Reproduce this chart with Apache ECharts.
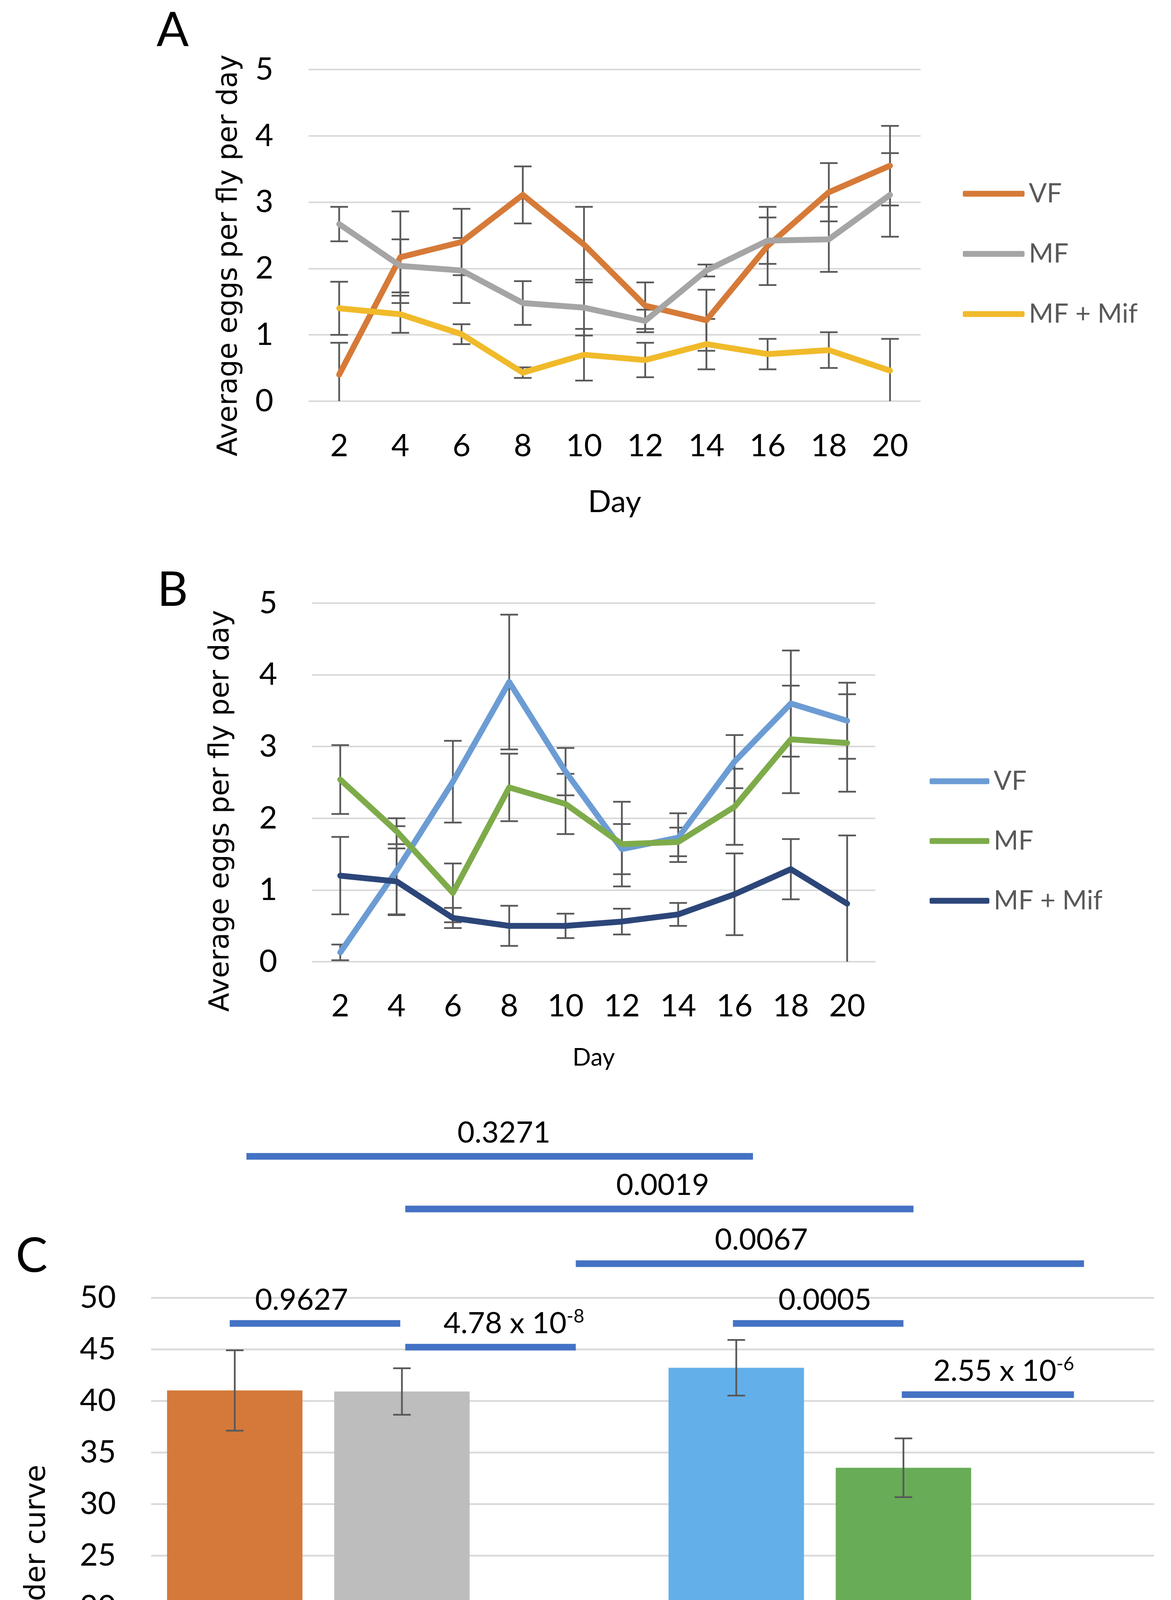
<!DOCTYPE html>
<html>
<head>
<meta charset="utf-8">
<script src="https://cdn.jsdelivr.net/npm/echarts@6/dist/echarts.min.js"></script>
<style>
html,body{margin:0;padding:0;background:#fff;}
.panel{position:absolute;left:0;width:2998px;}
</style>
</head>
<body>
<div id="pa" class="panel" style="top:0;height:1400px;"></div>
<div id="pb" class="panel" style="top:1400px;height:1400px;"></div>
<div id="pc" class="panel" style="top:2800px;height:2031px;"></div>
<script>
// ---------- data ----------
const days = ['2','4','6','8','10','12','14','16','18','20'];
const seriesNames = ['VF','MF','MF + Mif'];

// Panel A
const aVF      = [0.40, 2.17, 2.40, 3.11, 2.36, 1.44, 1.22, 2.34, 3.15, 3.55];
const aVFErr   = [0.48, 0.69, 0.50, 0.43, 0.57, 0.35, 0.46, 0.59, 0.44, 0.60];
const aMF      = [2.67, 2.04, 1.97, 1.48, 1.41, 1.21, 1.97, 2.42, 2.44, 3.11];
const aMFErr   = [0.26, 0.40, 0.49, 0.33, 0.42, 0.17, 0.09, 0.35, 0.49, 0.63];
const aMif     = [1.40, 1.31, 1.01, 0.43, 0.70, 0.62, 0.86, 0.71, 0.77, 0.46];
const aMifErr  = [0.40, 0.28, 0.15, 0.08, 0.39, 0.26, 0.38, 0.23, 0.27, 0.48];

// Panel B
const bVF      = [0.13, 1.27, 2.51, 3.90, 2.65, 1.57, 1.73, 2.79, 3.60, 3.36];
const bVFErr   = [0.11, 0.62, 0.57, 0.94, 0.33, 0.35, 0.34, 0.37, 0.74, 0.53];
const bMF      = [2.54, 1.82, 0.96, 2.43, 2.20, 1.64, 1.67, 2.16, 3.10, 3.05];
const bMFErr   = [0.48, 0.18, 0.41, 0.47, 0.42, 0.59, 0.20, 0.53, 0.75, 0.68];
const bMif     = [1.20, 1.12, 0.61, 0.50, 0.50, 0.56, 0.66, 0.94, 1.29, 0.81];
const bMifErr  = [0.54, 0.46, 0.14, 0.28, 0.17, 0.18, 0.16, 0.57, 0.42, 0.95];

// Panel C
const groups   = ['CVF','CMF','CMF + Mif','EVF','EMF','EMF + Mif'];
const auc      = [41.0, 40.9, 17.3, 43.2, 33.5, 12.0];
const aucErr   = [3.9, 2.25, 1.5, 2.7, 2.85, 2.95];

// significance comparisons (positions in category units, y in axis units)
const sigLabels = ['0.3271','0.0019','0.0067','0.9627','4.78 x 10^-8','0.0005','2.55 x 10^-6'];
const sigFrom   = [0.07, 1.02, 2.04, -0.03, 1.02, 2.98, 3.99];
const sigTo     = [3.10, 4.06, 5.08, 0.99, 2.04, 4.00, 5.02];
const sigY      = [63.7, 58.6, 53.3, 47.5, 45.2, 47.5, 40.6];
const sigLabelAt= [1.61, 2.56, 3.15, 0.40, 1.67, 3.53, 4.60];

const yTicksLine = {min:0, max:5, interval:1};
const yTicksBar  = {min:0, max:50, interval:5};

// ---------- styles ----------
const NUM_FONT = 'Lato, "Open Sans", "Noto Sans", sans-serif';
const TITLE_FONT = '"DejaVu Sans", Verdana, sans-serif';
const GRID_COLOR = '#D9D9D9';
const ERR_COLOR = '#595959';
const colorsA = ['#D67A38', '#A5A5A5', '#F0BA2A'];
const colorsB = ['#6C9CD4', '#7EAB4A', '#2C4679'];
const barColors = ['#D4793A', '#BDBDBD', '#F0BB2C', '#62AFEA', '#68AC58', '#0B2559'];

function errorSeries(vals, errs, capW, lw){
  return {
    type:'custom', z: 1, silent:true,
    data: vals.map((v,i)=>[i, v, errs[i]]),
    encode:{x:0, y:1},
    renderItem: function(params, api){
      const i = api.value(0), v = api.value(1), e = api.value(2);
      const top = api.coord([i, v + e]);
      let low = v - e;
      const clipped = low < 0;
      if (clipped) low = 0;
      const bot = api.coord([i, low]);
      const x = top[0];
      const st = {stroke: ERR_COLOR, lineWidth: lw};
      const ch = [
        {type:'line', shape:{x1:x, y1:top[1], x2:x, y2:bot[1]}, style:st},
        {type:'line', shape:{x1:x-capW/2, y1:top[1], x2:x+capW/2, y2:top[1]}, style:st}
      ];
      if (!clipped) ch.push({type:'line', shape:{x1:x-capW/2, y1:bot[1], x2:x+capW/2, y2:bot[1]}, style:st});
      return {type:'group', children: ch};
    }
  };
}

function lineSeries(name, vals, color){
  return {
    type:'line', name:name, data:vals, z:3, symbol:'none',
    lineStyle:{color:color, width:15, cap:'round', join:'round'},
    itemStyle:{color:color}
  };
}

function textEl(x, y, text, fontSize, family, rot){
  return {
    type:'text', x:x, y:y, rotation: rot || 0, silent:true,
    style:{text:text, fontSize:fontSize, fontFamily:family, fill:'#000',
           align:'center', verticalAlign:'middle', textAlign:'center', textVerticalAlign:'middle'}
  };
}

function linePanel(el, cfg){
  const chart = echarts.init(el, null, {renderer:'canvas'});
  const option = {
    animation:false,
    grid:{left:cfg.grid[0], top:cfg.grid[1], right:cfg.grid[2], bottom:cfg.grid[3], containLabel:false},
    legend:{
      orient:'vertical', left:cfg.legendLeft, top:cfg.legendTop, padding:0,
      itemGap:cfg.legendGap, itemWidth:cfg.legendW, itemHeight:15, icon:'roundRect',
      data: seriesNames,
      textStyle:{fontSize:68, lineHeight:68, fontFamily:NUM_FONT, color:'#595959', padding:[0,0,0,6]}
    },
    xAxis:{
      type:'category', data:days, boundaryGap:true,
      axisLine:{show:false}, axisTick:{show:false}, splitLine:{show:false},
      axisLabel:{fontSize:80, fontFamily:NUM_FONT, color:'#000', margin:cfg.xMargin},
      name:'Day', nameLocation:'middle', nameGap:cfg.nameGap,
      nameTextStyle:{fontSize:cfg.dayFont, fontFamily:NUM_FONT, color:'#000'}
    },
    yAxis:{
      type:'value', min:yTicksLine.min, max:yTicksLine.max, interval:yTicksLine.interval,
      axisLine:{show:false}, axisTick:{show:false},
      splitLine:{show:true, lineStyle:{color:GRID_COLOR, width:4}},
      axisLabel:{fontSize:80, fontFamily:NUM_FONT, color:'#000', margin:cfg.yMargin}
    },
    graphic:[
      textEl(cfg.letter[0], cfg.letter[1], cfg.letterText, 122, NUM_FONT, 0),
      textEl(cfg.ytitle[0], cfg.ytitle[1], 'Average eggs per fly per day', 71, TITLE_FONT, Math.PI/2)
    ],
    series:[
      errorSeries(cfg.vals[0], cfg.errs[0], 45, 4.5),
      errorSeries(cfg.vals[1], cfg.errs[1], 45, 4.5),
      errorSeries(cfg.vals[2], cfg.errs[2], 45, 4.5),
      lineSeries(seriesNames[0], cfg.vals[0], cfg.colors[0]),
      lineSeries(seriesNames[1], cfg.vals[1], cfg.colors[1]),
      lineSeries(seriesNames[2], cfg.vals[2], cfg.colors[2])
    ]
  };
  chart.setOption(option);
}

linePanel(document.getElementById('pa'), {
  grid:[790, 178, 641, 373],
  legendLeft:2465, legendTop:462, legendGap:86, legendW:158,
  xMargin:75, yMargin:90, nameGap:220, dayFont:78,
  letter:[442, 79], letterText:'A', ytitle:[588, 654],
  vals:[aVF, aMF, aMif], errs:[aVFErr, aMFErr, aMifErr], colors:colorsA
});

linePanel(document.getElementById('pb'), {
  grid:[799, 144, 757, 338],
  legendLeft:2380, legendTop:566, legendGap:85, legendW:153,
  xMargin:74, yMargin:89, nameGap:215, dayFont:62,
  letter:[442, 112], letterText:'B', ytitle:[567, 676],
  vals:[bVF, bMF, bMif], errs:[bVFErr, bMFErr, bMifErr], colors:colorsB
});

// ---------- Panel C ----------
(function(){
  const chart = echarts.init(document.getElementById('pc'), null, {renderer:'canvas'});
  function richLabel(s){
    const k = s.indexOf('^');
    if (k < 0) return '{b|' + s + '}';
    return '{b|' + s.slice(0,k) + '}{s|' + s.slice(k+1) + '}';
  }
  const option = {
    animation:false,
    grid:{left:387, top:522, right:43, bottom:189, containLabel:false},
    xAxis:{
      type:'category', data:groups, boundaryGap:true,
      axisLine:{show:false}, axisTick:{show:false}, splitLine:{show:false},
      axisLabel:{fontSize:80, fontFamily:NUM_FONT, color:'#000', margin:64, interval:0}
    },
    yAxis:{
      type:'value', min:yTicksBar.min, max:yTicksBar.max, interval:yTicksBar.interval,
      axisLine:{show:false}, axisTick:{show:false},
      splitLine:{show:true, lineStyle:{color:GRID_COLOR, width:4.5}},
      axisLabel:{fontSize:80, fontFamily:NUM_FONT, color:'#000', margin:90}
    },
    graphic:[
      textEl(81, 417, 'C', 122, NUM_FONT, 0),
      textEl(96, 1266, 'Area under curve', 73, TITLE_FONT, Math.PI/2)
    ],
    series:[
      {
        type:'bar', barCategoryGap:'19%', z:1,
        data: auc.map((v,i)=>({value:v, itemStyle:{color:barColors[i]}}))
      },
      Object.assign(errorSeries(auc, aucErr, 45, 4.5), {z:3}),
      {
        type:'custom', z:4, silent:true,
        data: sigY.map((y,k)=>[0, y, sigFrom[k], sigTo[k], sigLabelAt[k], k]),
        encode:{x:0, y:1},
        renderItem:function(params, api){
          const base = api.coord([0, api.value(1)]);
          const band = api.size([1, 0])[0];
          const x1 = base[0] + api.value(2)*band;
          const x2 = base[0] + api.value(3)*band;
          const xl = base[0] + api.value(4)*band;
          const k = api.value(5);
          const y = base[1];
          return {type:'group', children:[
            {type:'rect', shape:{x:x1, y:y-8.5, width:x2-x1, height:17}, style:{fill:'#4472C4'}},
            {type:'text', x:xl, y:y-62, style:{
              text: richLabel(sigLabels[k]), align:'center', verticalAlign:'middle',
              rich:{
                b:{fontSize:76, fontFamily:NUM_FONT, fill:'#000', lineHeight:80, verticalAlign:'bottom'},
                s:{fontSize:48, fontFamily:NUM_FONT, fill:'#000', lineHeight:80, verticalAlign:'top'}
              }
            }}
          ]};
        }
      }
    ]
  };
  chart.setOption(option);
})();
</script>
</body>
</html>
